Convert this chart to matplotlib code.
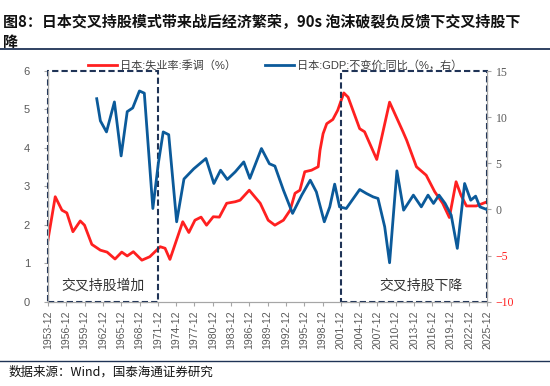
import matplotlib
matplotlib.use("Agg")
import matplotlib.pyplot as plt
from matplotlib.patches import Rectangle

plt.rcParams['font.family'] = ['Liberation Sans', 'Noto Sans CJK SC', 'DejaVu Sans']

# 日本:失业率:季调(%) -- left axis (decimal years)
unemp_year = [1953.9, 1955.1, 1956.2, 1957.0, 1958.0, 1959.2, 1959.9, 1961.1, 1962.5,
              1963.6, 1964.9, 1966.0, 1966.9, 1967.9, 1969.3, 1970.6, 1972.3, 1973.1,
              1973.9, 1976.0, 1977.0, 1978.0, 1979.0, 1979.9, 1981.0, 1982.0, 1983.2,
              1984.6, 1985.4, 1986.9, 1988.7, 1990.0, 1991.1, 1992.5, 1993.6, 1994.4,
              1995.2, 1996.0, 1997.1, 1998.2, 1998.5, 1999.0, 1999.6, 2000.6, 2001.4,
              2002.4, 2003.1, 2005.0, 2005.8, 2007.8, 2009.9, 2012.1, 2012.7, 2014.3,
              2015.9, 2017.3, 2018.6, 2019.7, 2020.8, 2021.6, 2022.5, 2024.1, 2025.9]
unemp = [1.6, 2.73, 2.38, 2.31, 1.82, 2.1, 1.99, 1.49, 1.34,
         1.29, 1.11, 1.29, 1.19, 1.3, 1.08, 1.17, 1.43, 1.39,
         1.1, 2.08, 1.8, 2.12, 2.2, 1.99, 2.21, 2.2, 2.56,
         2.6, 2.64, 2.9, 2.56, 2.12, 1.99, 2.12, 2.38, 2.82,
         2.9, 3.38, 3.42, 3.51, 3.94, 4.37, 4.63, 4.74, 4.98,
         5.43, 5.32, 4.5, 4.42, 3.7, 5.19, 4.42, 4.2, 3.51,
         3.29, 2.86, 2.56, 2.19, 3.12, 2.77, 2.49, 2.49, 2.6]

# 日本:GDP:不变价:同比(%) -- right axis
gdp_year = [1961.9, 1962.5, 1963.5, 1964.8, 1965.9, 1966.9, 1967.8, 1968.9, 1969.7,
            1971.1, 1972.0, 1972.8, 1973.7, 1975.0, 1976.2, 1977.8, 1979.8, 1981.1,
            1982.2, 1983.3, 1984.6, 1986.0, 1987.0, 1988.9, 1990.2, 1991.1, 1992.5,
            1994.0, 1995.5, 1996.9, 1997.9, 1999.2, 2000.1, 2000.9, 2001.7, 2002.8,
            2005.0, 2006.1, 2007.2, 2008.0, 2009.1, 2009.9, 2011.1, 2012.2, 2013.8,
            2015.1, 2016.2, 2017.1, 2018.0, 2019.0, 2020.0, 2021.0, 2022.2, 2023.2,
            2024.0, 2024.7, 2025.8]
gdp = [12.0, 9.6, 8.4, 11.65, 5.8, 10.6, 11.0, 12.84, 12.6,
       0.1, 5.0, 8.4, 8.1, -1.34, 3.3, 4.4, 5.52, 2.81,
       4.25, 3.25, 4.07, 5.15, 3.36, 6.6, 4.95, 4.7, 2.09,
       -0.43, 1.55, 3.17, 1.9, -1.34, 0.28, 2.74, 0.28, 0.1,
       2.16, 1.73, 1.36, 1.19, -1.88, -5.78, 4.18, -0.08, 1.55,
       0.28, 1.55, 0.65, 1.55, 0.65, -0.62, -4.22, 2.81, 1.0,
       1.44, 0.28, 0.0]

tick_years = list(range(1953, 2026, 3))
tick_labels = [str(y) + "-12" for y in tick_years]
boxes = [(1953, 1971, "交叉持股增加"), (2001, 2025, "交叉持股下降")]

red = "#FF2020"
blue = "#0B5A9A"
navy = "#1F3356"
grey = "#595959"

fig = plt.figure(figsize=(5.5, 3.86), dpi=100)
ax = fig.add_axes([0.0873, 0.2184, 0.7987, 0.5976])
ax2 = ax.twinx()

ax.plot(unemp_year, unemp, color=red, lw=2.0, label="日本:失业率:季调（%）", zorder=3)
ax2.plot(gdp_year, gdp, color=blue, lw=2.0, label="日本:GDP:不变价:同比（%，右）", zorder=3)

x0 = 1953 + 11 / 12
x1 = 2025 + 11 / 12
ax.set_xlim(x0, x1)
ax.set_ylim(0, 6)
ax2.set_ylim(-10, 15)
ax.set_yticks(range(0, 7))
ax2.set_yticks(range(-10, 16, 5))
ax.set_xticks([y + 11 / 12 for y in tick_years])
ax.set_xticklabels(tick_labels, rotation=90, fontsize=7.5, color=grey)

for a in (ax, ax2):
    for s in a.spines.values():
        s.set_color("#A6A6A6")
    a.spines['top'].set_visible(False)
    a.tick_params(direction='out', length=3, color="#A6A6A6")
ax.tick_params(axis='y', labelsize=8, labelcolor=grey, pad=10)
ax2.tick_params(axis='y', labelsize=8.5, pad=3)
for t, v in zip(ax2.get_yticklabels(), range(-10, 16, 5)):
    t.set_family('Liberation Serif')
    t.set_color(red if v < 0 else grey)

for a, b, txt in boxes:
    ax.add_patch(Rectangle((a + 11 / 12, 0), b - a, 6, fill=False, ec=navy,
                           lw=1.5, ls=(0, (3, 1.5)), zorder=4, clip_on=False))
    ax.text((a + b) / 2 + 11 / 12 + (1.2 if a == 2001 else 0), 0.42, txt,
            ha='center', va='center', fontsize=10, color="#333333",
            family=['Noto Sans CJK SC'])

h1, l1 = ax.get_legend_handles_labels()
h2, l2 = ax2.get_legend_handles_labels()
fig.legend(h1 + h2, l1 + l2, loc='center', bbox_to_anchor=(275 / 550, 1 - 65 / 386), ncol=2,
           frameon=False, handlelength=2.6, columnspacing=2.6,
           labelcolor="#404040", borderaxespad=0, borderpad=0, handletextpad=0.3,
           prop={'family': ['Liberation Sans', 'Noto Sans CJK SC'], 'size': 8})

fig.text(0.005, 0.965, "图8：日本交叉持股模式带来战后经济繁荣，90s 泡沫破裂负反馈下交叉持股下\n降",
         ha='left', va='top', fontsize=10.8, fontweight='bold', linespacing=1.35,
         family=['Noto Sans CJK SC', 'DejaVu Sans'], color="#111111")
fig.add_artist(plt.Line2D([0, 1], [1 - 49 / 386] * 2, color=navy, lw=1.3))
fig.add_artist(plt.Line2D([0, 1], [1 - 361 / 386] * 2, color=navy, lw=1.0))
fig.text(0.015, 1 - 372 / 386, "数据来源：Wind，国泰海通证券研究", ha='left', va='center',
         fontsize=9, family=['Noto Sans CJK SC'], color="#111111")

fig.savefig("out.png", dpi=100)
